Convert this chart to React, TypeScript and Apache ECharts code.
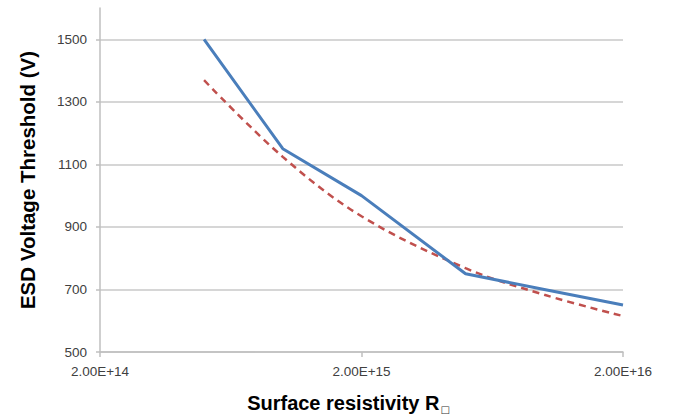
import React, { useEffect, useRef } from 'react';
import * as echarts from 'echarts';

const resistivity = [5e14, 1e15, 2e15, 5e15, 1e16, 2e16];
const measured = [1500, 1150, 1000, 750, 700, 650];
const fitted = [1369, 1124, 934, 768, 683, 615];
const xTickValues = [2e14, 2e15, 2e16];
const yTickValues = [500, 700, 900, 1100, 1300, 1500];

export default function App() {
  const ref = useRef<HTMLDivElement>(null);
  useEffect(() => {
    if (!ref.current) return;
    const chart = echarts.init(ref.current, null, { renderer: 'svg' });
    const labelFont = { fontFamily: 'Liberation Sans, Arial, sans-serif', fontSize: 13.5, color: '#404040' };
    // keep the last log tick inside the floating-point extent
    const xTicks = xTickValues.map((v, i) => (i === xTickValues.length - 1 ? v * (1 - 1e-9) : v));
    chart.setOption({
      animation: false,
      backgroundColor: '#ffffff',
      grid: { left: 100, right: 57, top: 8, bottom: 65, containLabel: false },
      xAxis: {
        type: 'log',
        logBase: 10,
        min: 2e14,
        max: 2e16,
        name: '{a|Surface resistivity R}{b|□}',
        nameLocation: 'middle',
        nameGap: 39,
        nameTextStyle: {
          padding: [0, 26, 0, 0],
          rich: {
            a: { fontFamily: 'Liberation Sans, Arial, sans-serif', fontSize: 20, fontWeight: 'bold', color: '#000' },
            b: { fontFamily: 'DejaVu Sans, sans-serif', fontSize: 10, color: '#333', padding: [13, 0, 0, 1] },
          },
        },
        axisLine: { show: true, lineStyle: { color: '#BFBFBF', width: 1.5 } },
        axisTick: { show: true, length: 5, lineStyle: { color: '#BFBFBF', width: 1.5 }, customValues: xTicks },
        axisLabel: {
          ...labelFont,
          margin: 12,
          customValues: xTicks,
          formatter: (v: number) => v.toExponential(2).toUpperCase(),
        },
        splitLine: { show: false },
        minorTick: { show: false },
      },
      yAxis: {
        type: 'value',
        min: 500,
        max: 1600,
        interval: 200,
        name: 'ESD Voltage Threshold (V)',
        nameLocation: 'middle',
        nameGap: 62,
        nameTextStyle: { fontFamily: 'Liberation Sans, Arial, sans-serif', fontSize: 20.5, fontWeight: 'bold', color: '#000' },
        axisLine: { show: true, lineStyle: { color: '#BFBFBF', width: 1.5 } },
        axisTick: { show: true, length: 4, lineStyle: { color: '#BFBFBF', width: 1.5 }, customValues: yTickValues },
        axisLabel: { ...labelFont, margin: 13, customValues: yTickValues, formatter: (v: number) => String(v) },
        splitLine: { show: true, lineStyle: { color: '#C8C8C8', width: 1.5 } },
      },
      series: [
        {
          type: 'line',
          data: resistivity.map((x, i) => [x, measured[i]]),
          showSymbol: false,
          lineStyle: { color: '#4A7EBB', width: 3 },
          itemStyle: { color: '#4A7EBB' },
          z: 3,
        },
        {
          type: 'line',
          data: resistivity.map((x, i) => [x, fitted[i]]),
          showSymbol: false,
          smooth: 0.35,
          lineStyle: { color: '#C0504D', width: 2.5, type: [7, 5] },
          itemStyle: { color: '#C0504D' },
          z: 2,
        },
      ],
    });
    return () => chart.dispose();
  }, []);
  return <div ref={ref} style={{ position: 'fixed', left: 0, top: 0, width: 680, height: 419 }} />;
}
